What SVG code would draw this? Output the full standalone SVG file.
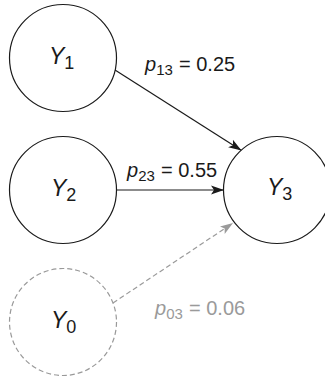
<svg xmlns="http://www.w3.org/2000/svg" width="325" height="377" viewBox="0 0 325 377">
<style>
.node{fill:#fff;stroke:#1a1a1a;stroke-width:1.2}
.dnode{fill:#fff;stroke:#999;stroke-width:1.2;stroke-dasharray:5 3}
.ylab{font-family:"Liberation Sans",Arial,sans-serif;font-size:23px;fill:#1a1a1a}
.plab{font-family:"Liberation Sans",Arial,sans-serif;font-size:20px;fill:#1a1a1a}
.gray{fill:#9a9a9a}
.edge{stroke:#1a1a1a;stroke-width:1.2;fill:none}
.dedge{stroke:#9a9a9a;stroke-width:1.2;fill:none;stroke-dasharray:5 3}
</style>
<defs>
<marker id="ah" markerUnits="userSpaceOnUse" markerWidth="14" markerHeight="10" refX="13" refY="5" orient="auto">
<path d="M0,0.5 L13,5 L0,9.5 L3,5 Z" fill="#1a1a1a"/>
</marker>
<marker id="ahg" markerUnits="userSpaceOnUse" markerWidth="14" markerHeight="10" refX="13" refY="5" orient="auto">
<path d="M0,0.5 L13,5 L0,9.5 L3,5 Z" fill="#9a9a9a"/>
</marker>
</defs>
<g id="connectors">
<line class="edge" x1="115" y1="70" x2="241.5" y2="150.5" marker-end="url(#ah)"/>
<line class="edge" x1="116" y1="190" x2="224" y2="190" marker-end="url(#ah)"/>
<line class="dedge" x1="113" y1="303" x2="233" y2="223" marker-end="url(#ahg)"/>
<text class="plab" x="145" y="71"><tspan font-style="italic">p</tspan><tspan font-size="15" dy="4">13</tspan><tspan dy="-4" x="179">= 0.25</tspan></text>
<text class="plab" x="127" y="177"><tspan font-style="italic">p</tspan><tspan font-size="15" dy="4">23</tspan><tspan dy="-4" x="161">= 0.55</tspan></text>
<text class="plab gray" x="155" y="315"><tspan font-style="italic">p</tspan><tspan font-size="15" dy="4">03</tspan><tspan dy="-4" x="189">= 0.06</tspan></text>
</g>
<g id="Y1">
<circle class="node" cx="63" cy="58" r="53.5"/>
<text class="ylab" x="49" y="63.5"><tspan font-style="italic">Y</tspan><tspan font-size="18" dy="5">1</tspan></text>
</g>
<g id="Y2">
<circle class="node" cx="63" cy="190" r="53.5"/>
<text class="ylab" x="51" y="196"><tspan font-style="italic">Y</tspan><tspan font-size="18" dy="5">2</tspan></text>
</g>
<g id="Y3">
<circle class="node" cx="277" cy="190" r="53.5"/>
<text class="ylab" x="267" y="195"><tspan font-style="italic">Y</tspan><tspan font-size="18" dy="5">3</tspan></text>
</g>
<g id="Y0">
<circle class="dnode" cx="63" cy="322" r="53.5"/>
<text class="ylab" x="51" y="328"><tspan font-style="italic">Y</tspan><tspan font-size="18" dy="5">0</tspan></text>
</g>
</svg>
